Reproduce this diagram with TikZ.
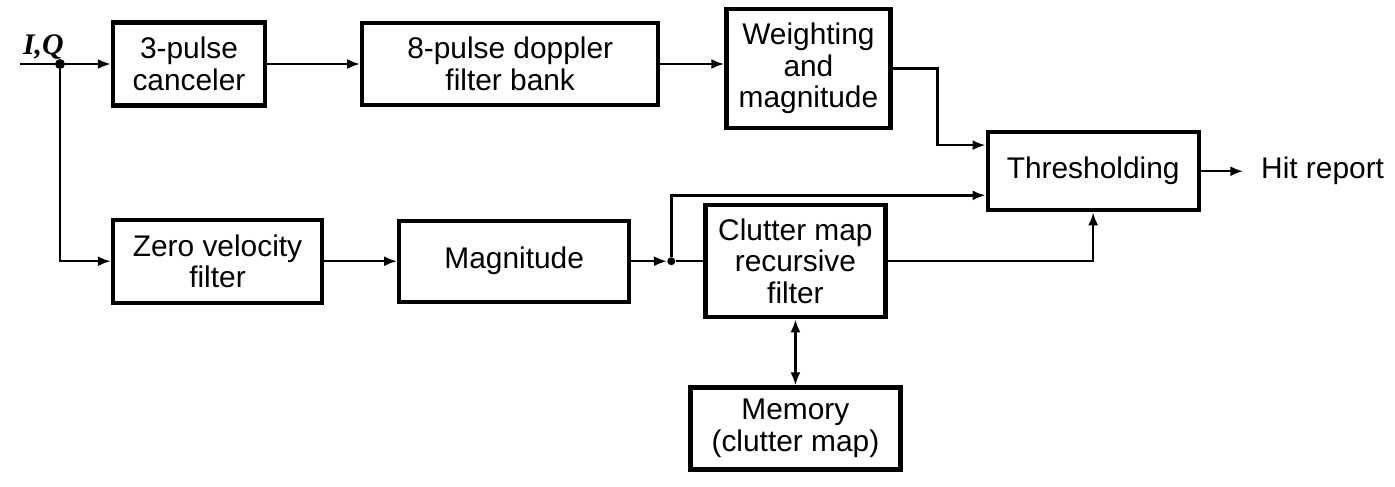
\documentclass[tikz,border=0pt]{standalone}
\usepackage{fontspec}
\setmainfont{Liberation Sans}
\newfontfamily\iqfont{Liberation Serif}
\usepackage{tikz}
\usetikzlibrary{arrows.meta,positioning}

\begin{document}
\begin{tikzpicture}[
    node distance=1.5cm and 1.5cm,
    every node/.style={font=\fontsize{17}{18}\selectfont},
    box/.style={
      draw,
      line width=2.4pt,
      align=center,
      inner sep=2pt
    },
    line/.style={line width=1.4pt},
    arrow/.style={line width=1.4pt, -{Latex[length=2.6mm,width=2mm]}},
    dblarrow/.style={line width=1.4pt, {Latex[length=2.6mm,width=2mm]}-{Latex[length=2.6mm,width=2mm]}},
    dot/.style={circle, fill, inner sep=0pt, minimum size=#1}
  ]
    \useasboundingbox (0,0) rectangle (27.9,9.72);

    % upper row
    \node[box, minimum width=3.04cm, minimum height=1.66cm] (canc) at (3.78,8.44) {3-pulse\\canceler};
    \node[box, minimum width=5.92cm, minimum height=1.64cm, right=1.86cm of canc] (dopp) {8-pulse doppler\\filter bank};
    \node[box, minimum width=3.28cm, minimum height=2.38cm, right=1.28cm of dopp, yshift=-0.09cm] (wght) {Weighting\\and\\magnitude};
    \node[box, minimum width=4.22cm, minimum height=1.56cm, right=1.86cm of wght.south east, anchor=north west] (thr) {Thresholding};
    \node[right=0.85cm of thr, inner xsep=10pt] (hit) {Hit report};

    % lower row
    \node[box, minimum width=4.18cm, minimum height=1.66cm, below=2.2cm of canc.south west, anchor=north west] (zvf) {Zero velocity\\filter};
    \node[box, minimum width=4.6cm, minimum height=1.62cm, right=1.46cm of zvf] (mag) {Magnitude};
    \node[box, minimum width=3.6cm, minimum height=2.24cm, right=1.44cm of mag] (clut) {Clutter map\\recursive\\filter};
    \node[box, minimum width=4.2cm, minimum height=1.64cm, below=1.32cm of clut] (mem) {Memory\\(clutter map)};

    % input
    \coordinate (in) at (0.4,8.44);
    \node[dot=0.2cm] (j1) at (1.2,8.44) {};
    \node[inner sep=1pt, above right=0.06cm and 0.02cm of in] (iq) {\iqfont\bfseries\itshape I,Q};
    \node[dot=0.16cm, right=0.8cm of mag.east, anchor=center] (j2) {};

    \draw[line] (in) -- (j1);
    \draw[arrow] (j1) -- (canc);
    \draw[arrow] (j1) |- (zvf);
    \draw[arrow] (canc) -- (dopp);
    \draw[arrow] (dopp.east) -- (dopp.east -| wght.west);
    \draw[arrow] (wght.east) -- ++(0.9,0) |- ([yshift=-0.3cm]thr.north west);
    \draw[arrow] (thr) -- (hit);
    \draw[arrow] (zvf) -- (mag);
    \draw[arrow] (mag) -- (j2);
    \draw[line] (j2) -- (clut);
    \draw[arrow] (j2) |- ([yshift=0.34cm]thr.south west);
    \draw[arrow] (clut.east) -| (thr.south);
    \draw[dblarrow] (clut) -- (mem);
  \end{tikzpicture}
\end{document}
